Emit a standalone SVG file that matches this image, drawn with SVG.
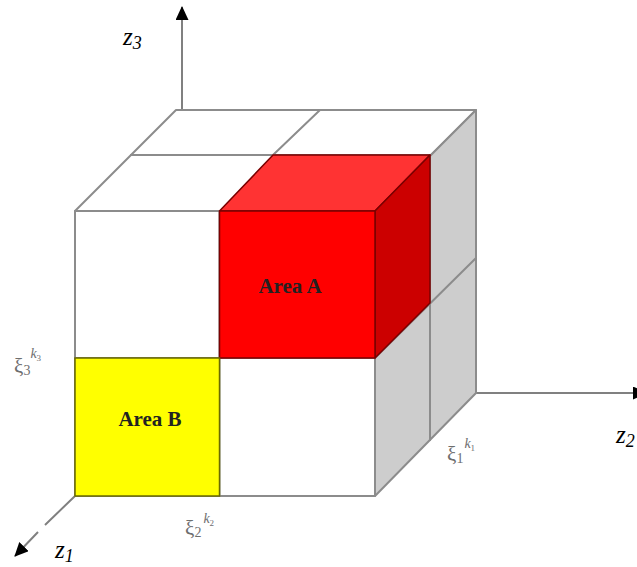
<svg xmlns="http://www.w3.org/2000/svg" width="637" height="567" viewBox="0 0 637 567">
<defs>
<marker id="ah" markerUnits="userSpaceOnUse" markerWidth="15" markerHeight="14" refX="13" refY="6.500" orient="auto"><path d="M0 0L14 6.500L0 13Z" fill="#000"/></marker>
</defs>
<style>
.e{stroke:#8c8c8c;stroke-width:2;stroke-linejoin:round}
.n{fill:none}
.d{stroke:#7a0000;stroke-width:1.500;stroke-linejoin:round}
.k{stroke:#6a6a00;stroke-width:1.500}
.a{stroke:#808080;stroke-width:2;fill:none}
.z{font-family:"Liberation Serif",serif;font-style:italic;fill:#000}
.l{font-family:"Liberation Serif",serif;font-weight:bold;font-size:21px;fill:#222;text-anchor:middle}
.x{font-family:"Liberation Serif",serif;fill:#6e6e6e}
</style>
<rect width="637" height="567" fill="#fff"/>
<g id="connectors">
<path class="a" d="M182 110V7" marker-end="url(#ah)"/>
<path class="a" d="M476 393H646" marker-end="url(#ah)"/>
<path class="a" d="M75 496L45 525M38 532L15 556" marker-end="url(#ah)"/>
</g>
<g id="top-face"><path class="e" fill="#fff" d="M75 211L176 110H476L375 211Z"/><path class="e n" d="M130 155H430M320 110L273 155"/></g>
<g id="side-face"><path class="e" fill="#cdcdcd" d="M375 211L476 110V393L375 496Z"/><path class="e n" d="M430 155V441M375 358L476 258"/></g>
<g id="front-face"><rect class="e" x="75" y="211" width="300" height="285" fill="#fff"/><path class="e n" d="M219.500 211V496M75 358H375"/></g>
<g id="area-a">
<path class="d" d="M219.500 211L273 155H430L375 211Z" fill="#ff3333"/>
<path class="d" d="M375 211L430 155V303L375 358Z" fill="#cc0000"/>
<rect class="d" x="219.500" y="211" width="155.500" height="147" fill="#ff0000"/>
<text class="l" x="290" y="293">Area A</text>
</g>
<g id="area-b">
<rect class="k" x="75" y="358" width="144.500" height="138" fill="#ffff00"/>
<text class="l" x="150" y="426">Area B</text>
</g>
<g id="labels">
<text class="z" font-size="25" x="123" y="45">z<tspan font-size="18" dy="4">3</tspan></text>
<text class="z" font-size="25" x="616" y="443">z<tspan font-size="18" dy="4">2</tspan></text>
<text class="z" font-size="25" x="55" y="558">z<tspan font-size="18" dy="4">1</tspan></text>
<text class="x" font-size="21" x="14" y="373">ξ<tspan font-size="14" dy="2">3</tspan><tspan font-size="14" dy="-17" font-style="italic">k</tspan><tspan font-size="9" dy="3">3</tspan></text>
<text class="x" font-size="21" x="185" y="535">ξ<tspan font-size="14" dy="2">2</tspan><tspan font-size="14" dx="2" dy="-14" font-style="italic">k</tspan><tspan font-size="9" dy="3">2</tspan></text>
<text class="x" font-size="21" x="447" y="461">ξ<tspan font-size="14" dy="2">1</tspan><tspan font-size="14" dx="1" dy="-15" font-style="italic">k</tspan><tspan font-size="9" dy="3">1</tspan></text>
</g>
</svg>
